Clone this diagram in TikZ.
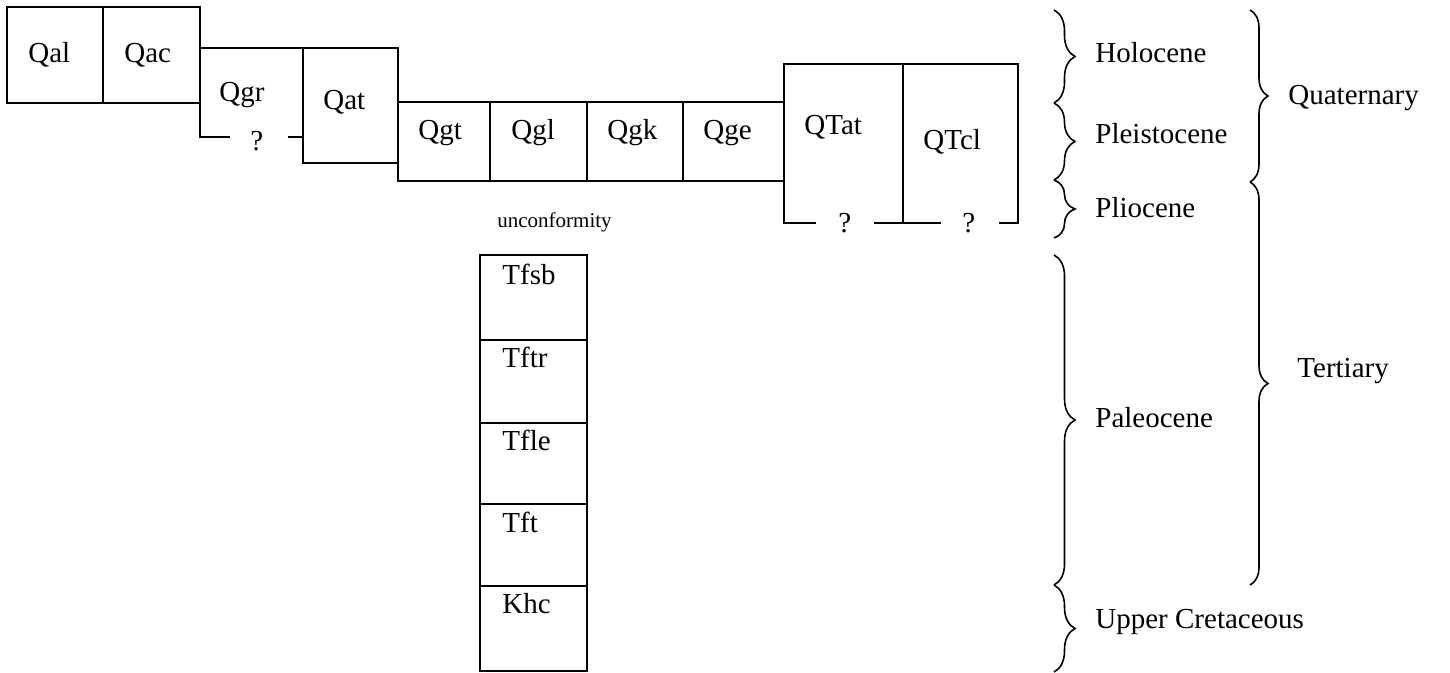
\documentclass[tikz,border=0pt]{standalone}
\usepackage{fontspec}
\setmainfont{Liberation Serif}
\usetikzlibrary{decorations.pathreplacing}
\begin{document}
\begin{tikzpicture}[x=0.5pt,y=-0.5pt,
  unitline/.style={line width=1pt,line cap=rect},
  lbl/.style={anchor=base west,inner sep=0pt,font=\fontsize{14.5}{17}\selectfont},
  small/.style={anchor=base west,inner sep=0pt,font=\fontsize{10.5}{12}\selectfont},
  brc/.style={line width=0.8pt,decorate,decoration={brace,amplitude=10.5pt,aspect=0.5}},
  brcb/.style={line width=0.8pt,decorate,decoration={brace,amplitude=9pt,aspect=0.5}}]
\useasboundingbox (0,0) rectangle (1450,673);
% top row boxes
\draw[unitline] (7,7) rectangle (103,103);
\draw[unitline] (103,7) rectangle (200,103);
\draw[unitline] (200,48) -- (303,48);
\draw[unitline] (200,103) -- (200,137) -- (229,137);
\draw[unitline] (289,137) -- (303,137);
\draw[unitline] (303,48) rectangle (398,163);
\draw[unitline] (398,163) -- (398,181);
\draw[unitline] (398,102) rectangle (784,181);
\foreach \xx in {490,587,683} \draw[unitline] (\xx,102) -- (\xx,181);
\draw[unitline] (815,223) -- (784,223) -- (784,64) -- (1018,64) -- (1018,223) -- (1000,223);
\draw[unitline] (875,223) -- (940,223);
\draw[unitline] (903,64) -- (903,223);
% stack
\draw[unitline] (480,255) rectangle (587,671);
\foreach \yy in {340,423,504,586} \draw[unitline] (480,\yy) -- (587,\yy);
% labels
\node[lbl] (qal) at (28,63) {Qal};
\node[lbl] (qac) at (124,63) {Qac};
\node[lbl] (qgr) at (219,102) {Qgr};
\node[lbl] (qgrq) at (250,151) {?};
\node[lbl] (qat) at (323,110) {Qat};
\node[lbl] (qgt) at (418,140) {Qgt};
\node[lbl] (qgl) at (511,140) {Qgl};
\node[lbl] (qgk) at (607,140) {Qgk};
\node[lbl] (qge) at (703,140) {Qge};
\node[lbl] (qtat) at (804,135) {QTat};
\node[lbl] (qtcl) at (923,150) {QTcl};
\node[lbl] (qtatq) at (838,233) {?};
\node[lbl] (qtclq) at (962,233) {?};
\node[small] (unc) at (497,228) {unconformity};
\node[lbl] (tfsb) at (502,285) {Tfsb};
\node[lbl] (tftr) at (502,368) {Tftr};
\node[lbl] (tfle) at (502,450) {Tfle};
\node[lbl] (tft) at (502,532) {Tft};
\node[lbl] (khc) at (502,613) {Khc};
% braces
\draw[brc] (1054,10) -- (1054,103);
\draw[brc] (1054,103) -- (1054,180);
\draw[brc] (1054,180) -- (1054,238);
\draw[brc] (1054,255) -- (1054,585);
\draw[brc] (1054,585) -- (1054,672);
\draw[brcb] (1250,10) -- (1250,182);
\draw[brcb] (1250,182) -- (1250,585);
\node[lbl] (holo) at (1095,63) {Holocene};
\node[lbl] (pleis) at (1095,144) {Pleistocene};
\node[lbl] (plio) at (1095,218) {Pliocene};
\node[lbl] (paleo) at (1095,428) {Paleocene};
\node[lbl] (ucret) at (1095,628) {Upper Cretaceous};
\node[lbl] (quat) at (1288,105) {Quaternary};
\node[lbl] (tert) at (1297,378) {Tertiary};
\end{tikzpicture}
\end{document}
